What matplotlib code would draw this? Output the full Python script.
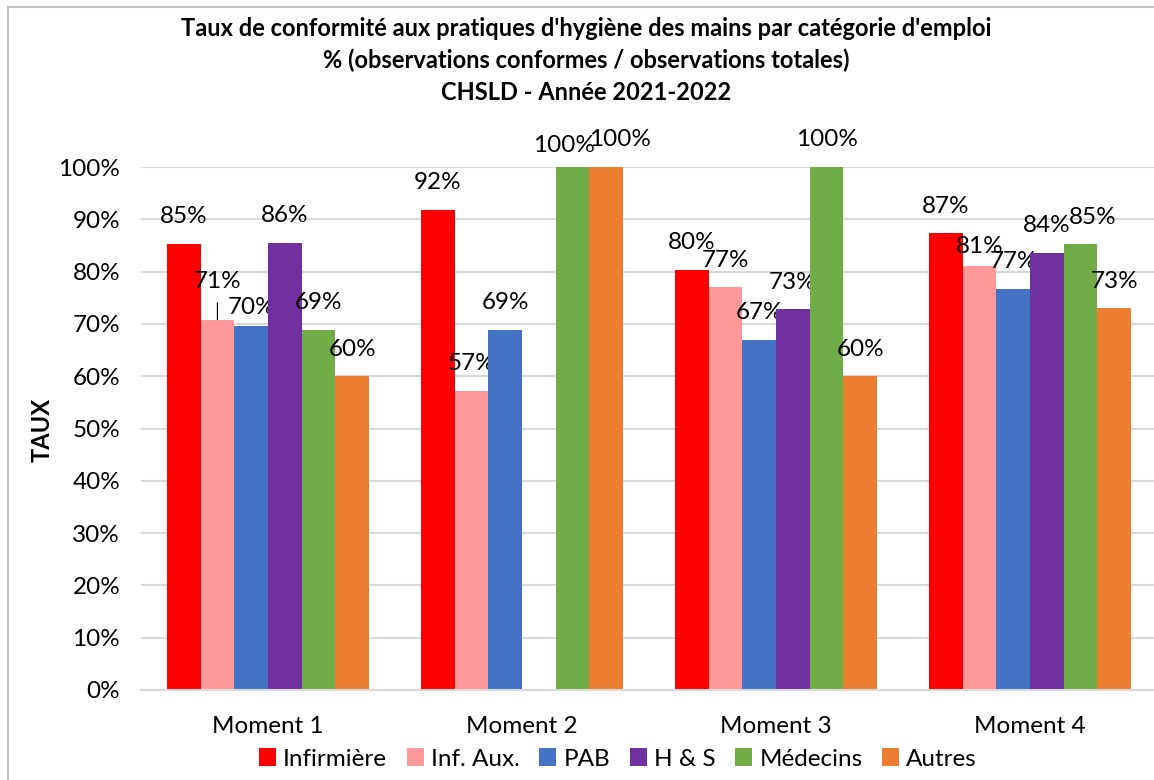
import numpy as np
import matplotlib.pyplot as plt
from matplotlib.patches import Rectangle

plt.rcParams['font.family'] = ['Lato', 'DejaVu Sans']

moments = ["Moment 1", "Moment 2", "Moment 3", "Moment 4"]
series = ["Infirmière", "Inf. Aux.", "PAB", "H & S", "Médecins", "Autres"]
colors = ["#FF0000", "#FF9999", "#4472C4", "#7030A0", "#70AD47", "#ED7D31"]

infirmiere = [0.853, 0.918, 0.804, 0.873]
inf_aux    = [0.708, 0.572, 0.770, 0.811]
pab        = [0.696, 0.689, 0.670, 0.767]
h_s        = [0.855, np.nan, 0.728, 0.836]
medecins   = [0.689, 1.000, 1.000, 0.852]
autres     = [0.600, 1.000, 0.600, 0.730]
values = [infirmiere, inf_aux, pab, h_s, medecins, autres]

title_lines = ["Taux de conformité aux pratiques d'hygiène des mains par catégorie d'emploi",
               "% (observations conformes / observations totales)",
               "CHSLD - Année 2021-2022"]

# label nudges in pixels (series, group) -> (dx, dy), like Excel's hand-moved labels
nudge = {(1, 0): (0, 11), (2, 0): (0, -9), (4, 1): (-9, -5), (5, 1): (14, 0),
         (1, 3): (0, -8), (4, 3): (12, 0)}

fs = 17.5

fig = plt.figure(figsize=(11.54, 7.8), dpi=100)
ax = fig.add_axes([141 / 1154, 90 / 780, 1016 / 1154, 523 / 780])

# grey frame round the chart
fig.patches.append(Rectangle((8 / 1154, -0.1), 1.2, 1 - 7 / 780 + 0.1, transform=fig.transFigure,
                             fill=False, edgecolor="#BFBFBF", linewidth=1.5))

x = np.arange(len(moments))
w = 0.797 / len(series)
px = 72 / 100  # points per pixel

for i, (name, vals, col) in enumerate(zip(series, values, colors)):
    pos = x - 0.797 / 2 + w * (i + 0.5)
    ax.bar(pos, vals, width=w, color=col, label=name, zorder=3)
    for j, v in enumerate(vals):
        if np.isnan(v):
            continue
        dx, dy = nudge.get((i, j), (0, 0))
        ax.annotate(f"{v:.0%}", (pos[j], v), xytext=(dx * px, (27 + dy) * px),
                    textcoords="offset points", ha="center", va="center",
                    fontsize=fs, color="#000000", annotation_clip=False)
        if (i, j) == (1, 0):
            ax.annotate("", (pos[j], v), xytext=(0, 17 * px), textcoords="offset points",
                        arrowprops=dict(arrowstyle="-", color="#000000", lw=0.8,
                                        shrinkA=0, shrinkB=0))

ax.set_xlim(-0.5, 3.5)
ax.set_ylim(0, 1.0)
ax.set_yticks(np.arange(0, 1.01, 0.1))
ax.set_yticklabels([f"{t:.0%}" for t in np.arange(0, 1.01, 0.1)], fontsize=fs)
ax.set_xticks(x)
ax.set_xticklabels(moments, fontsize=fs)
ax.tick_params(length=0)
ax.tick_params(axis="y", pad=15)
ax.tick_params(axis="x", pad=19)
ax.grid(axis="y", color="#D9D9D9", linewidth=1.5, zorder=0)
for s in ["top", "right", "left"]:
    ax.spines[s].set_visible(False)
ax.spines["bottom"].set_color("#D9D9D9")
ax.spines["bottom"].set_linewidth(1.5)
ax.spines["bottom"].set_zorder(4)

fig.text(42 / 1154, 1 - 430 / 780, "TAUX", rotation=90, ha="center", va="center",
         fontsize=17, fontweight="bold")

for k, line in enumerate(title_lines):
    fig.text(586 / 1154, 1 - (28 + 32 * k) / 780, line, ha="center", va="center",
             fontsize=17, fontweight="bold")

fig.legend(loc="center", bbox_to_anchor=(618 / 1154, 1 - 759 / 780), ncol=6, frameon=False,
           fontsize=fs, handlelength=0.7, handleheight=0.7, handletextpad=0.3,
           columnspacing=0.8, borderaxespad=0)

fig.savefig("out.png", dpi=100)
